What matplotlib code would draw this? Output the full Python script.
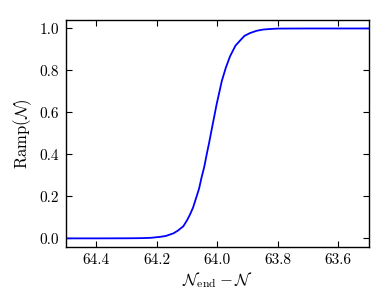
import matplotlib
matplotlib.use("Agg")
import matplotlib.pyplot as plt

plt.rcParams['font.family'] = 'serif'
plt.rcParams['font.serif'] = ['cmr10', 'DejaVu Serif']
plt.rcParams['mathtext.fontset'] = 'cm'
plt.rcParams['axes.unicode_minus'] = False
plt.rcParams['axes.formatter.use_mathtext'] = True

# data (x = N_end - N, y = Ramp(N))
n_values = [64.50, 64.40, 64.30, 64.25, 64.22, 64.19, 64.17, 64.145, 64.13,
            64.112, 64.10, 64.090, 64.08, 64.068, 64.06, 64.052, 64.043,
            64.035, 64.027, 64.019, 64.01, 64.002, 63.993, 63.985, 63.972,
            63.958, 63.94, 63.925, 63.91, 63.892, 63.87, 63.848, 63.82,
            63.80, 63.70, 63.60, 63.50]
ramp_values = [0.0, 0.0, 0.0004, 0.0011, 0.0026, 0.007, 0.0115, 0.024, 0.037,
               0.058, 0.086, 0.114, 0.147, 0.201, 0.238, 0.290, 0.341,
               0.400, 0.455, 0.515, 0.581, 0.640, 0.698, 0.750, 0.812,
               0.867, 0.918, 0.942, 0.965, 0.978, 0.989, 0.995, 0.998,
               0.9995, 1.0, 1.0, 1.0]
x_ticks = [64.4, 64.2, 64.0, 63.8, 63.6]
y_ticks = [0.0, 0.2, 0.4, 0.6, 0.8, 1.0]

fig = plt.figure(figsize=(3.88, 2.91), dpi=100)
ax = fig.add_axes([0.170, 0.152, 0.780, 0.779])
ax.plot(n_values, ramp_values, color='b', lw=1.3)
ax.set_xlim(64.5, 63.5)
ax.set_ylim(-0.04, 1.04)
ax.set_xticks(x_ticks)
ax.set_xticklabels([f"{v:.1f}" for v in x_ticks])
ax.set_yticks(y_ticks)
ax.set_yticklabels([f"{v:.1f}" for v in y_ticks])
ax.tick_params(direction='in', top=True, right=True, length=4, width=0.8,
               labelsize=11, pad=5)
for s in ax.spines.values():
    s.set_linewidth(1.0)
ax.set_xlabel(r'$\mathcal{N}_{\mathrm{end}} - \mathcal{N}$', fontsize=12, labelpad=2)
ax.set_ylabel(r'$\mathrm{Ramp}(\mathcal{N})$', fontsize=12, labelpad=4)
fig.savefig('out.png', dpi=100)
